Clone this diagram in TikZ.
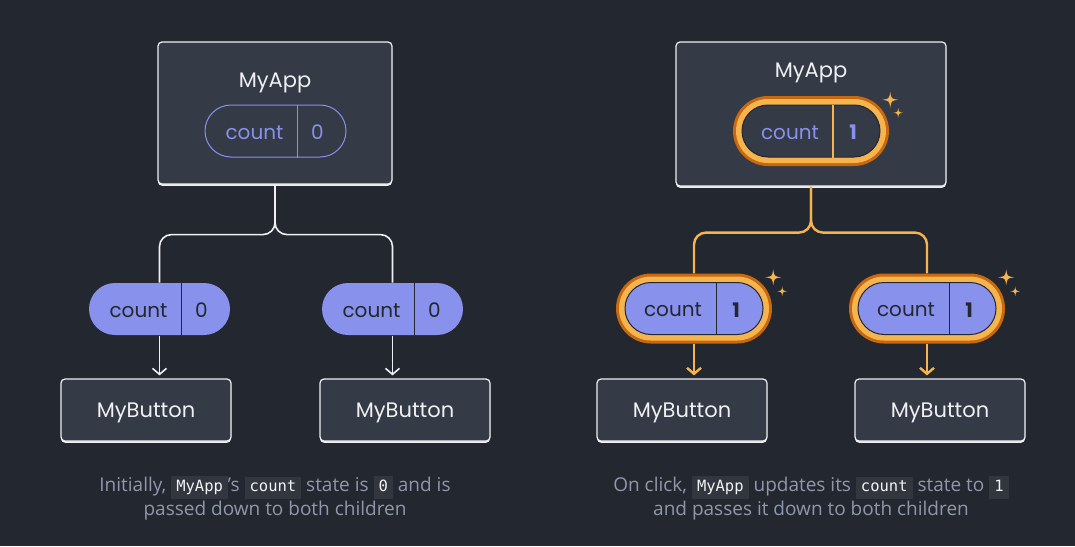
\documentclass[tikz,border=0pt]{standalone}
\usepackage{fontspec}
\setmainfont{Open Sans}
\setmonofont{DejaVu Sans Mono}
\newfontfamily\labelfont{Poppins}
\usetikzlibrary{arrows.meta,shadows}
\definecolor{bg}{HTML}{23272F}
\definecolor{boxfill}{HTML}{343A46}
\definecolor{edge}{HTML}{EEF0F3}
\definecolor{lilac}{HTML}{8891EC}
\definecolor{ink}{HTML}{23272F}
\definecolor{grey}{HTML}{8F98AB}
\definecolor{chipbg}{HTML}{31363F}
\definecolor{chiptext}{HTML}{F2F3F5}
\definecolor{amber}{HTML}{F6B44F}
\definecolor{rust}{HTML}{C8680F}
\newcommand\code[1]{{\setlength\fboxsep{3.5pt}\colorbox{chipbg}{\hspace{1.5pt}\ttfamily\fontsize{15.5}{15.5}\selectfont\color{chiptext}#1\strut\hspace{1.5pt}}}}
\begin{document}
\begin{tikzpicture}[x=1pt,y=-1pt,
  card/.style={draw=edge,fill=boxfill,rounded corners=4,line width=1.2pt,drop shadow={shadow xshift=0pt,shadow yshift=-1.8pt,fill=edge,opacity=1}},
  title/.style={text=edge,yshift=-3pt,font=\labelfont\fontsize{21}{21}\selectfont},
  word/.style={yshift=-1.5pt,font=\labelfont\fontsize{20}{20}\selectfont},
  pill/.style={rounded corners=26,minimum width=141,minimum height=52,line width=1pt},
  ring/.style={fill=rust,rounded corners=35,minimum width=156,minimum height=70},
  band/.style={fill=amber,rounded corners=32,minimum width=150,minimum height=64},
  core/.style={draw=ink,line width=1pt,rounded corners=26,minimum width=138,minimum height=52},
  wire/.style={draw=edge,line width=1.6pt,rounded corners=12},
  hot/.style={draw=amber,line width=2.4pt,rounded corners=12},
  arrowed/.style={-{Straight Barb[length=6pt,width=14pt]},shorten >=3pt},
  caption/.style={text=grey,align=center,font=\fontsize{19}{24}\selectfont},
  sparkle/.pic={\fill[amber] (0,-8) .. controls (1,-1) .. (8,0) .. controls (1,1) .. (0,8) .. controls (-1,1) .. (-8,0) .. controls (-1,-1) .. cycle;}]
\useasboundingbox[fill=bg] (0,0) rectangle (1075,546);

\node[card,minimum width=234,minimum height=142] (appA) at (275,113) {};
\node[title] at (275,80) {MyApp};
\node[pill,draw=lilac] (stA) at (275.5,131) {};
\draw[lilac,line width=1pt] ([xshift=22]stA.north) -- ([xshift=22]stA.south);
\node[word,text=lilac] at ([xshift=-21]stA.center) {count};
\node[word,text=lilac] at ([xshift=42]stA.center) {0};

\node[pill,fill=lilac] (pA1) at (159.5,309) {};
\node[pill,fill=lilac] (pA2) at (392.5,309) {};
\foreach \p in {pA1,pA2} {
  \draw[ink,line width=1pt] ([xshift=22]\p.north) -- ([xshift=22]\p.south);
  \node[word,text=ink] at ([xshift=-21]\p.center) {count};
  \node[word,text=ink] at ([xshift=42]\p.center) {0};
}
\node[card,minimum width=170,minimum height=62] (btA1) at (146,410) {};
\node[title] at (btA1) {MyButton};
\node[card,minimum width=170,minimum height=62] (btA2) at (405,410) {};
\node[title] at (btA2) {MyButton};

\draw[wire] (appA.south) -- ++(0,50) -| (pA1.north);
\draw[wire] (appA.south) -- ++(0,50) -| (pA2.north);
\draw[wire,arrowed] (pA1.south) -- (pA1.south |- btA1.north);
\draw[wire,arrowed] (pA2.south) -- (pA2.south |- btA2.north);

\node[card,minimum width=270,minimum height=144] (appB) at (811,114) {};
\node[title] at (811,70) {MyApp};
\node[ring] (rgB) at (811,131) {};
\node[band] at (811,131) {};
\node[core,fill=boxfill] (stB) at (811,131) {};
\draw[amber,line width=2.4pt] ([xshift=22]stB.north) -- ([xshift=22]stB.south);
\node[word,text=lilac] at ([xshift=-21]stB.center) {count};
\node[word,text=lilac] at ([xshift=42]stB.center) {\bfseries 1};
\path (rgB.north east) ++(1,4) pic {sparkle} ++(8,13) pic[scale=.6] {sparkle};

\node[ring] (rgB1) at (694,308.5) {};
\node[band] at (694,308.5) {};
\node[core,fill=lilac] (pB1) at (694,308.5) {};
\node[ring] (rgB2) at (927,308.5) {};
\node[band] at (927,308.5) {};
\node[core,fill=lilac] (pB2) at (927,308.5) {};
\foreach \p in {pB1,pB2} {
  \draw[ink,line width=1pt] ([xshift=22]\p.north) -- ([xshift=22]\p.south);
  \node[word,text=ink] at ([xshift=-21]\p.center) {count};
  \node[word,text=ink] at ([xshift=42]\p.center) {\bfseries 1};
}
\path (rgB1.north east) ++(1,4) pic {sparkle} ++(9,14) pic[scale=.6] {sparkle};
\path (rgB2.north east) ++(1,4) pic {sparkle} ++(9,14) pic[scale=.6] {sparkle};

\node[card,minimum width=170,minimum height=62] (btB1) at (682,410) {};
\node[title] at (btB1) {MyButton};
\node[card,minimum width=170,minimum height=62] (btB2) at (940,410) {};
\node[title] at (btB2) {MyButton};

\draw[hot] (appB.south) -- ++(0,46) -| (rgB1.north);
\draw[hot] (appB.south) -- ++(0,46) -| (rgB2.north);
\draw[hot,arrowed] (rgB1.south) -- (rgB1.south |- btB1.north);
\draw[hot,arrowed] (rgB2.south) -- (rgB2.south |- btB2.north);

\node[caption] (capA) at (275,498) {Initially, \code{MyApp}’s \code{count} state is \code{0} and is\\passed down to both children};
\node[caption] (capB) at (811,498) {On click, \code{MyApp} updates its \code{count} state to \code{1}\\and passes it down to both children};
\end{tikzpicture}
\end{document}
